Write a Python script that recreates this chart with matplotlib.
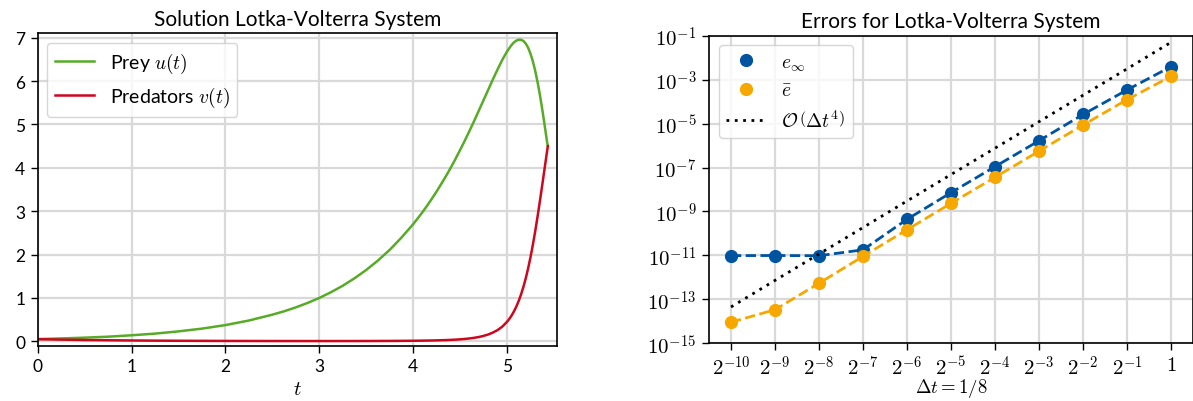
import matplotlib
matplotlib.use("Agg")
import matplotlib.pyplot as plt
from matplotlib.ticker import FixedLocator, FixedFormatter, NullLocator

plt.rcParams['font.family'] = ['Lato', 'DejaVu Sans']
plt.rcParams['mathtext.fontset'] = 'cm'

GREEN = '#57AB27'
RED = '#CC071E'
BLUE = '#00549F'
ORANGE = '#F6A800'

# Solution of the Lotka-Volterra system
t = [0.00, 0.25, 0.50, 0.75, 1.00, 1.25, 1.50, 1.75, 2.00, 2.25, 2.50,
     2.625, 2.75, 2.875, 3.00, 3.125, 3.25, 3.375, 3.50, 3.625, 3.75, 3.875,
     4.00, 4.05, 4.10, 4.15, 4.20, 4.25, 4.30, 4.35, 4.40, 4.45, 4.50, 4.55,
     4.60, 4.65, 4.70, 4.75, 4.80, 4.85, 4.90, 4.95, 5.00, 5.025, 5.05,
     5.075, 5.10, 5.125, 5.15, 5.175, 5.20, 5.225, 5.25, 5.275, 5.30, 5.325,
     5.35, 5.375, 5.40, 5.425, 5.435]
prey = [0.052, 0.067, 0.085, 0.107, 0.140, 0.178, 0.230, 0.293, 0.375, 0.480,
        0.615, 0.693, 0.783, 0.885, 1.00, 1.133, 1.282, 1.453, 1.645, 1.863,
        2.109, 2.39, 2.70, 2.838, 2.98, 3.13, 3.29, 3.455, 3.63, 3.81, 4.00,
        4.20, 4.41, 4.625, 4.85, 5.08, 5.32, 5.56, 5.80, 6.04, 6.27, 6.49,
        6.68, 6.76, 6.835, 6.893, 6.932, 6.952, 6.950, 6.922, 6.862, 6.766,
        6.630, 6.455, 6.238, 5.980, 5.683, 5.352, 4.993, 4.615, 4.50]
predators = [0.050, 0.040, 0.031, 0.025, 0.020, 0.016, 0.013, 0.011, 0.0093,
             0.0081, 0.0072, 0.0069, 0.0067, 0.0066, 0.0065, 0.0066, 0.0068,
             0.0071, 0.0076, 0.0084, 0.0095, 0.011, 0.0134, 0.0147, 0.0161,
             0.0179, 0.0199, 0.0225, 0.0254, 0.0292, 0.0336, 0.0395, 0.0463,
             0.0555, 0.0666, 0.0815, 0.100, 0.126, 0.158, 0.203, 0.261, 0.34,
             0.450, 0.519, 0.600, 0.695, 0.806, 0.935, 1.085, 1.258, 1.457,
             1.684, 1.939, 2.223, 2.534, 2.871, 3.229, 3.601, 3.979, 4.356,
             4.50]

# Convergence study
dt = [1/1024, 1/512, 1/256, 1/128, 1/64, 1/32, 1/16, 1/8, 1/4, 1/2, 1]
dt_labels = [r'$2^{-10}$', r'$2^{-9}$', r'$2^{-8}$', r'$2^{-7}$', r'$2^{-6}$',
             r'$2^{-5}$', r'$2^{-4}$', r'$2^{-3}$', r'$2^{-2}$', r'$2^{-1}$',
             r'$1$']
err_max = [9.8e-12, 9.9e-12, 9.7e-12, 1.8e-11, 4.4e-10, 7.2e-9, 1.1e-7,
           1.66e-6, 2.6e-5, 3.4e-4, 3.9e-3]
err_mean = [9.1e-15, 3.4e-14, 5.4e-13, 9.1e-12, 1.48e-10, 2.35e-9, 3.6e-8,
            5.6e-7, 8.6e-6, 1.23e-4, 1.41e-3]
order4_ref = [4.5e-14, 7.3e-13, 1.16e-11, 1.86e-10, 3.0e-9, 4.8e-8, 7.6e-7,
              1.22e-5, 1.95e-4, 3.1e-3, 5.0e-2]
y_ticks = [1e-15, 1e-13, 1e-11, 1e-9, 1e-7, 1e-5, 1e-3, 1e-1]
y_labels = [r'$10^{-15}$', r'$10^{-13}$', r'$10^{-11}$', r'$10^{-9}$',
            r'$10^{-7}$', r'$10^{-5}$', r'$10^{-3}$', r'$10^{-1}$']

fig = plt.figure(figsize=(11.93, 4.02), dpi=100)
ax1 = fig.add_axes([0.0316, 0.1376, 0.4351, 0.7771])
ax2 = fig.add_axes([0.5943, 0.1435, 0.4057, 0.7652])

for ax in (ax1, ax2):
    ax.set_axisbelow(True)
    ax.grid(True, color='#d9d9d9', lw=1.6)
    ax.tick_params(direction='out', length=5, width=1.0, labelsize=12.5,
                   pad=4)
    for sp in ax.spines.values():
        sp.set_linewidth(1.2)

# Left panel
ax1.plot(t, prey, color=GREEN, lw=1.8, label=r'Prey $u(t)$')
ax1.plot(t, predators, color=RED, lw=1.8, label=r'Predators $v(t)$')
ax1.set_xlim(0, 5.53)
ax1.set_ylim(-0.1, 7.1)
ax1.set_xticks([0, 1, 2, 3, 4, 5])
ax1.set_yticks([0, 1, 2, 3, 4, 5, 6, 7])
ax1.set_xlabel(r'$t$', fontsize=15, labelpad=3)
ax1.set_title('Solution Lotka-Volterra System', fontsize=15, pad=6)
ax1.legend(loc='upper left', fontsize=14, handlelength=2.0,
           borderaxespad=0.5)

# Right panel
ax2.set_xscale('log', base=2)
ax2.set_yscale('log')
ax2.plot(dt, err_max, '--', color=BLUE, lw=2.0)
ax2.plot(dt, err_max, 'o', color=BLUE, ms=8.5, label=r'$e_\infty$')
ax2.plot(dt, err_mean, '--', color=ORANGE, lw=2.0)
ax2.plot(dt, err_mean, 'o', color=ORANGE, ms=8.5, label=r'$\bar{e}$')
ax2.plot(dt, order4_ref, linestyle=(0, (1, 2)), color='black', lw=2.0,
         label=r'$\mathcal{O}\,\left(\Delta t^4\right)$')
ax2.set_xlim(2 ** -10.5, 2 ** 0.5)
ax2.set_ylim(1e-15, 1e-1)
ax2.xaxis.set_major_locator(FixedLocator(dt))
ax2.xaxis.set_major_formatter(FixedFormatter(dt_labels))
ax2.xaxis.set_minor_locator(NullLocator())
ax2.yaxis.set_major_locator(FixedLocator(y_ticks))
ax2.yaxis.set_major_formatter(FixedFormatter(y_labels))
ax2.yaxis.set_minor_locator(NullLocator())
ax2.tick_params(labelsize=15)
ax2.tick_params(axis='x', pad=3)
ax2.set_xlabel(r'$\Delta t = 1/8$', fontsize=13.5, labelpad=-2)
ax2.set_title('Errors for Lotka-Volterra System', fontsize=15, pad=6)
ax2.legend(loc='upper left', fontsize=14, handlelength=2.0,
           borderaxespad=0.5)

fig.savefig('out.png', dpi=100)
